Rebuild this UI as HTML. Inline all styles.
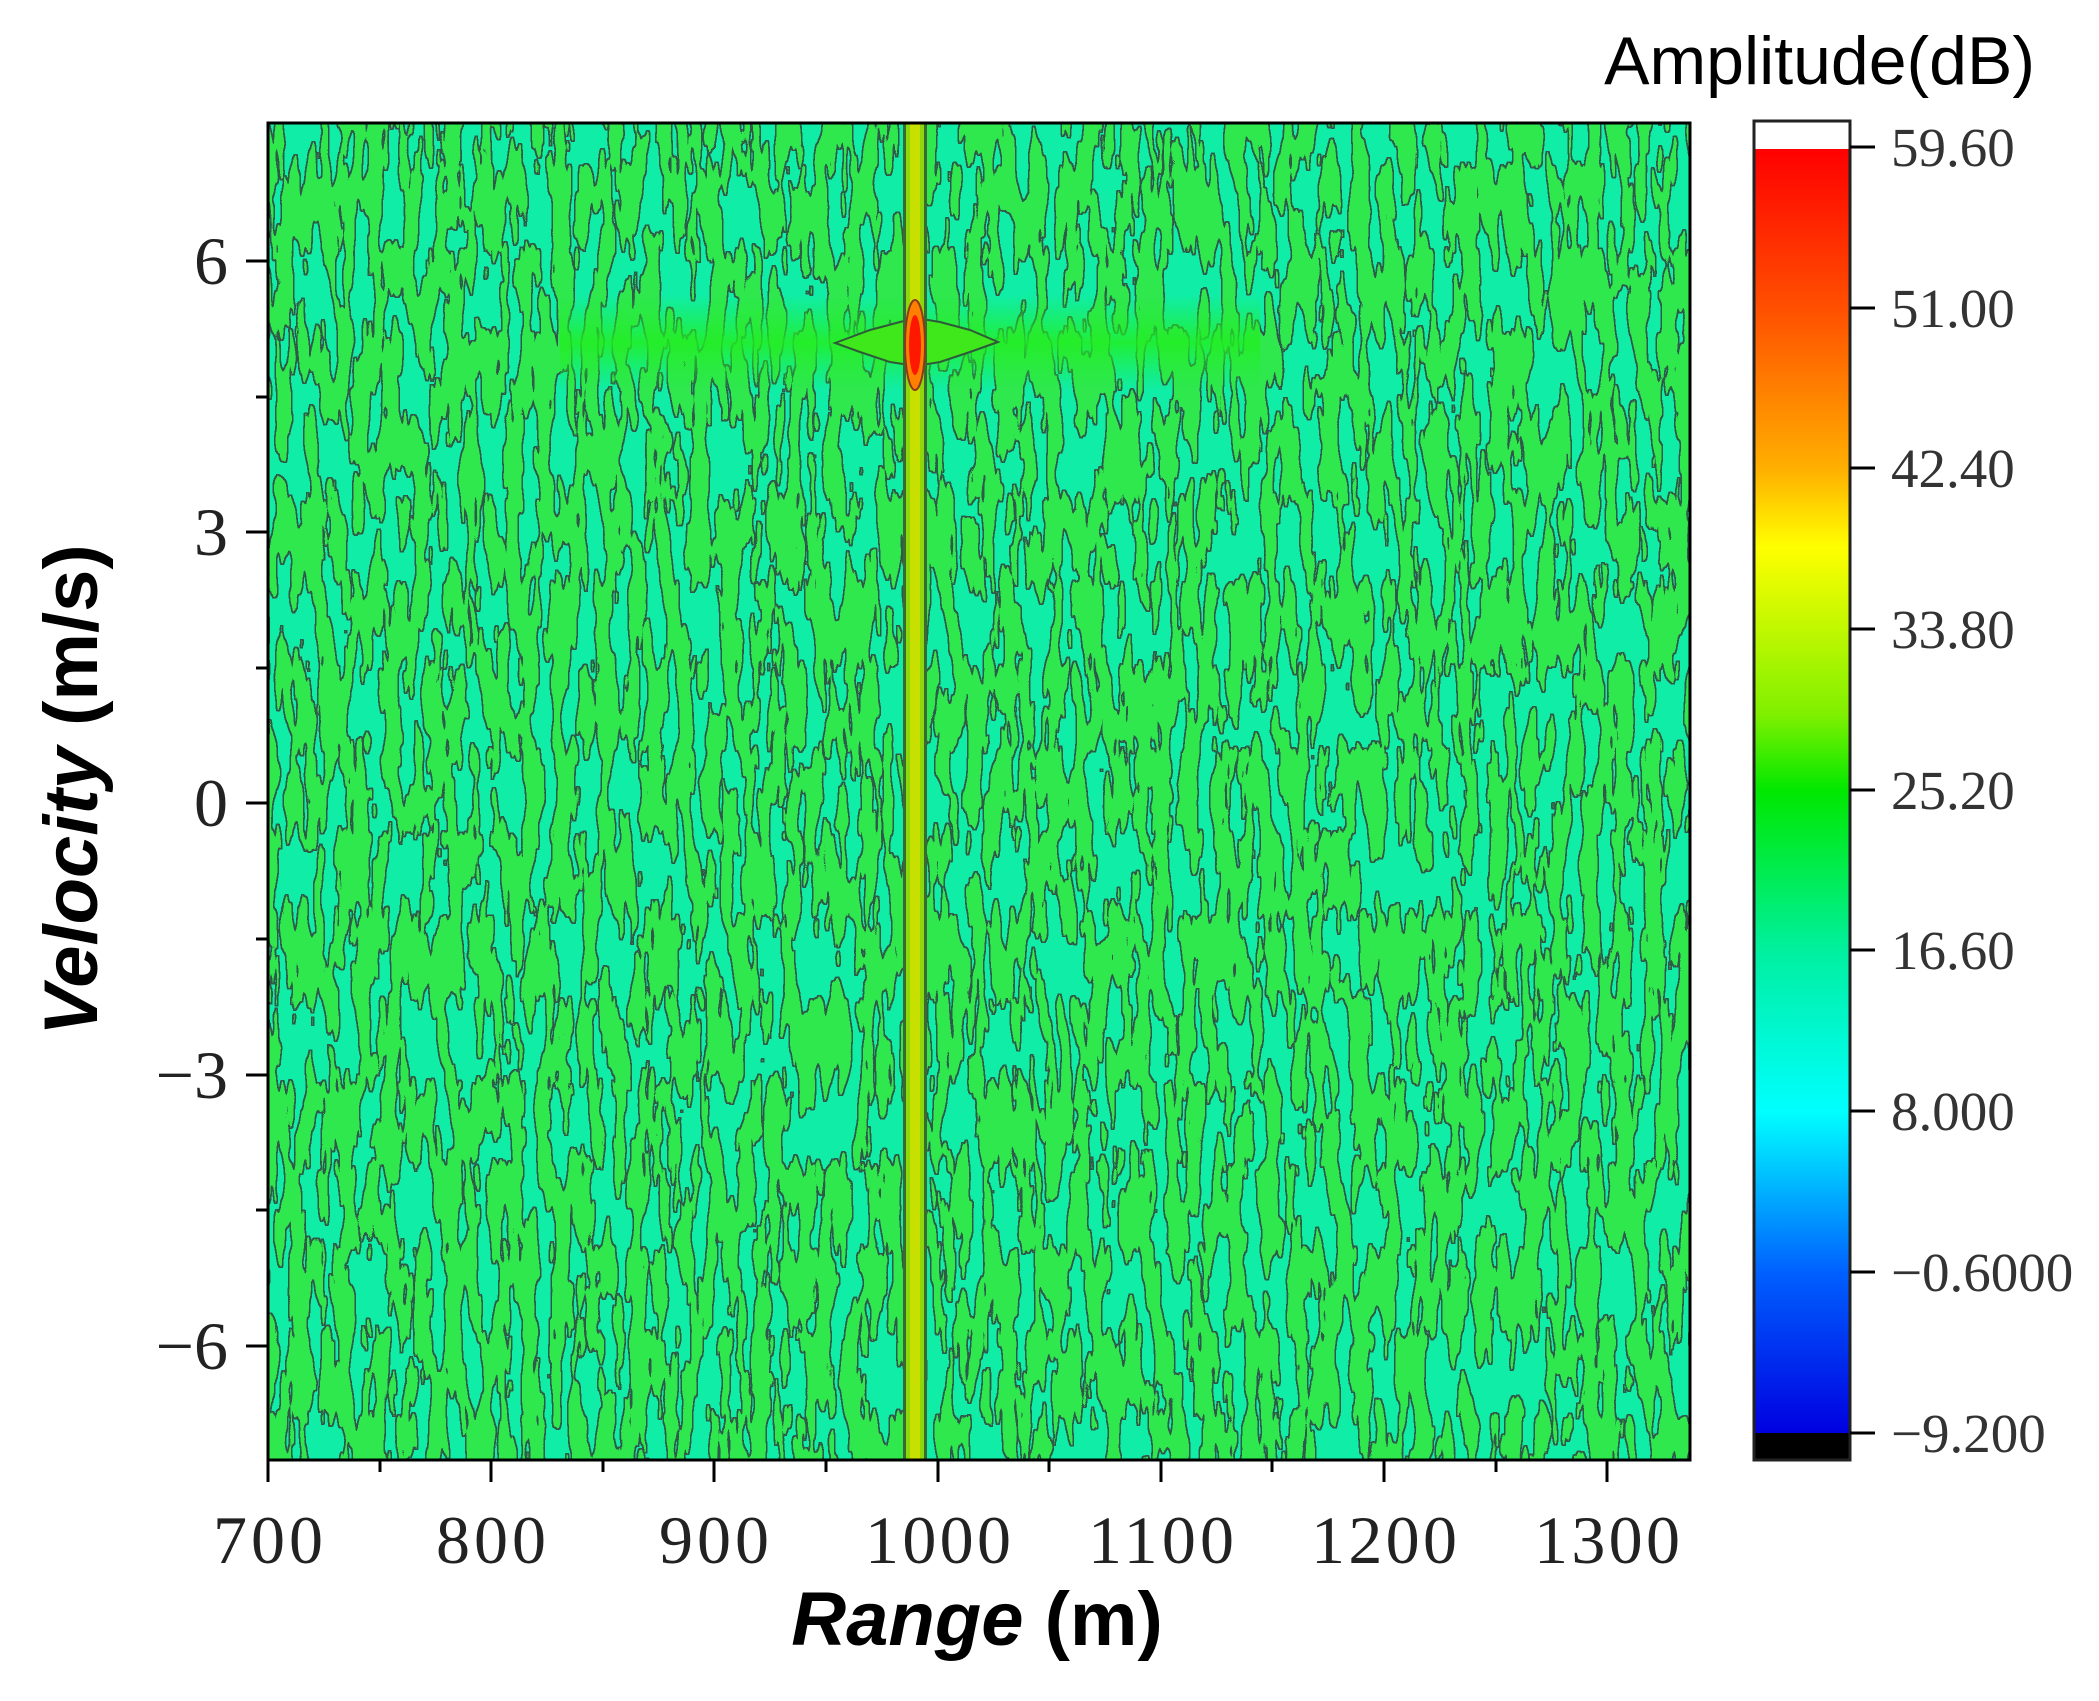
<!DOCTYPE html>
<html><head><meta charset="utf-8"><style>
body{margin:0;background:#fff;width:2099px;height:1696px;overflow:hidden}
</style></head><body>
<svg width="2099" height="1696" viewBox="0 0 2099 1696" xmlns="http://www.w3.org/2000/svg">
<defs>
<filter id="noise" x="0" y="0" width="100%" height="100%" color-interpolation-filters="sRGB">
<feTurbulence type="fractalNoise" baseFrequency="0.065 0.012" numOctaves="3" seed="7" result="t"/>
<feColorMatrix in="t" type="matrix" values="0 0 0 0 0  0 0 0 0 0  0 0 0 0 0  1.6 0 0 0 -0.3" result="a"/>
<feComponentTransfer in="a" result="b"><feFuncA type="discrete" tableValues="0 0 0 1 1 1"/></feComponentTransfer>
<feFlood flood-color="#2ee84e" result="g"/>
<feComposite in="g" in2="b" operator="in" result="gf"/>
<feMorphology in="b" operator="dilate" radius="1.3" result="d"/>
<feComposite in="d" in2="b" operator="out" result="edge"/>
<feFlood flood-color="#2f5a4a" result="lc"/>
<feComposite in="lc" in2="edge" operator="in" result="lines"/>
<feMerge><feMergeNode in="gf"/><feMergeNode in="lines"/></feMerge>
</filter>
<linearGradient id="cb" x1="0" y1="0" x2="0" y2="1">
<stop offset="0" stop-color="#ff0000"/>
<stop offset="0.125" stop-color="#ff5000"/>
<stop offset="0.25" stop-color="#ffb000"/>
<stop offset="0.31" stop-color="#ffff00"/>
<stop offset="0.44" stop-color="#80f000"/>
<stop offset="0.5" stop-color="#00e800"/>
<stop offset="0.625" stop-color="#00f0a0"/>
<stop offset="0.75" stop-color="#00ffff"/>
<stop offset="0.875" stop-color="#0060ff"/>
<stop offset="1" stop-color="#0000e0"/>
</linearGradient>
<linearGradient id="band" x1="0" y1="0" x2="0" y2="1">
<stop offset="0" stop-color="#22ee33" stop-opacity="0"/>
<stop offset="0.5" stop-color="#22ee22" stop-opacity="1"/>
<stop offset="1" stop-color="#22ee33" stop-opacity="0"/>
</linearGradient>
<clipPath id="pc"><rect x="268" y="123" width="1422" height="1337"/></clipPath>
</defs>
<g clip-path="url(#pc)">
<rect x="268" y="123" width="1422" height="1337" fill="#10eda6"/>
<rect x="268" y="123" width="1422" height="1337" filter="url(#noise)"/>
<rect x="560" y="295" width="700" height="95" fill="url(#band)" opacity="0.85"/>
<path d="M835,343 L870,330 L900,322 L916,318 L940,322 L970,330 L998,342 L970,352 L940,362 L916,366 L890,362 L860,352 Z" fill="#3ee81a" stroke="#2f5a3a" stroke-width="2"/>
<rect x="903" y="123" width="24" height="1337" fill="#3a6a30"/>
<rect x="906" y="123" width="18" height="1337" fill="#8cd80a"/>
<rect x="910" y="123" width="10" height="1337" fill="#c8e000"/>
<ellipse cx="915" cy="345" rx="10" ry="45" fill="#ff8000" stroke="#8a3a20" stroke-width="2"/>
<ellipse cx="915" cy="345" rx="6" ry="30" fill="#ff1800"/>
</g>
<rect x="268" y="123" width="1422" height="1337" fill="none" stroke="#000" stroke-width="3"/>
<g stroke="#000" stroke-width="3">
<line x1="268" y1="1460" x2="268" y2="1482"/><line x1="491" y1="1460" x2="491" y2="1482"/><line x1="714" y1="1460" x2="714" y2="1482"/><line x1="938" y1="1460" x2="938" y2="1482"/><line x1="1161" y1="1460" x2="1161" y2="1482"/><line x1="1384" y1="1460" x2="1384" y2="1482"/><line x1="1607" y1="1460" x2="1607" y2="1482"/>
<line x1="380" y1="1460" x2="380" y2="1472"/><line x1="603" y1="1460" x2="603" y2="1472"/><line x1="826" y1="1460" x2="826" y2="1472"/><line x1="1049" y1="1460" x2="1049" y2="1472"/><line x1="1272" y1="1460" x2="1272" y2="1472"/><line x1="1496" y1="1460" x2="1496" y2="1472"/>
<line x1="246" y1="261" x2="268" y2="261"/><line x1="246" y1="532" x2="268" y2="532"/><line x1="246" y1="803" x2="268" y2="803"/><line x1="246" y1="1075" x2="268" y2="1075"/><line x1="246" y1="1346" x2="268" y2="1346"/>
<line x1="256" y1="397" x2="268" y2="397"/><line x1="256" y1="668" x2="268" y2="668"/><line x1="256" y1="939" x2="268" y2="939"/><line x1="256" y1="1210" x2="268" y2="1210"/>
</g>
<g font-family="Liberation Serif, serif" font-size="68" fill="#222" text-anchor="middle">
<text x="268" y="1563" textLength="110">700</text><text x="491" y="1563" textLength="110">800</text><text x="714" y="1563" textLength="110">900</text><text x="938" y="1563" textLength="146">1000</text><text x="1161" y="1563" textLength="146">1100</text><text x="1384" y="1563" textLength="146">1200</text><text x="1607" y="1563" textLength="146">1300</text>
</g>
<g font-family="Liberation Serif, serif" font-size="68" fill="#222" text-anchor="end">
<text x="228" y="284">6</text><text x="228" y="555">3</text><text x="228" y="826">0</text><text x="228" y="1098">−3</text><text x="228" y="1369">−6</text>
</g>
<text x="977" y="1645" text-anchor="middle" font-family="Liberation Sans, sans-serif" font-weight="bold" font-size="76"><tspan font-style="italic">Range</tspan> (m)</text>
<text transform="translate(97,790) rotate(-90)" text-anchor="middle" font-family="Liberation Sans, sans-serif" font-weight="bold" font-size="76"><tspan font-style="italic">Velocity</tspan> (m/s)</text>
<text x="2035" y="84" text-anchor="end" font-family="Liberation Sans, sans-serif" font-size="68">Amplitude(dB)</text>
<rect x="1754" y="121" width="96" height="28" fill="#fff"/>
<rect x="1754" y="149" width="96" height="1284" fill="url(#cb)"/>
<rect x="1754" y="1433" width="96" height="27" fill="#000"/>
<rect x="1754" y="121" width="96" height="1339" fill="none" stroke="#222" stroke-width="3"/>
<g stroke="#000" stroke-width="3">
<line x1="1850" y1="147" x2="1875" y2="147"/><line x1="1850" y1="308" x2="1875" y2="308"/><line x1="1850" y1="468" x2="1875" y2="468"/><line x1="1850" y1="629" x2="1875" y2="629"/><line x1="1850" y1="790" x2="1875" y2="790"/><line x1="1850" y1="950" x2="1875" y2="950"/><line x1="1850" y1="1111" x2="1875" y2="1111"/><line x1="1850" y1="1272" x2="1875" y2="1272"/><line x1="1850" y1="1433" x2="1875" y2="1433"/>
</g>
<g font-family="Liberation Serif, serif" font-size="55" fill="#333">
<text x="1891" y="166">59.60</text><text x="1891" y="327">51.00</text><text x="1891" y="487">42.40</text><text x="1891" y="648">33.80</text><text x="1891" y="809">25.20</text><text x="1891" y="969">16.60</text><text x="1891" y="1130">8.000</text><text x="1891" y="1291">−0.6000</text><text x="1891" y="1452">−9.200</text>
</g>
</svg>
</body></html>
